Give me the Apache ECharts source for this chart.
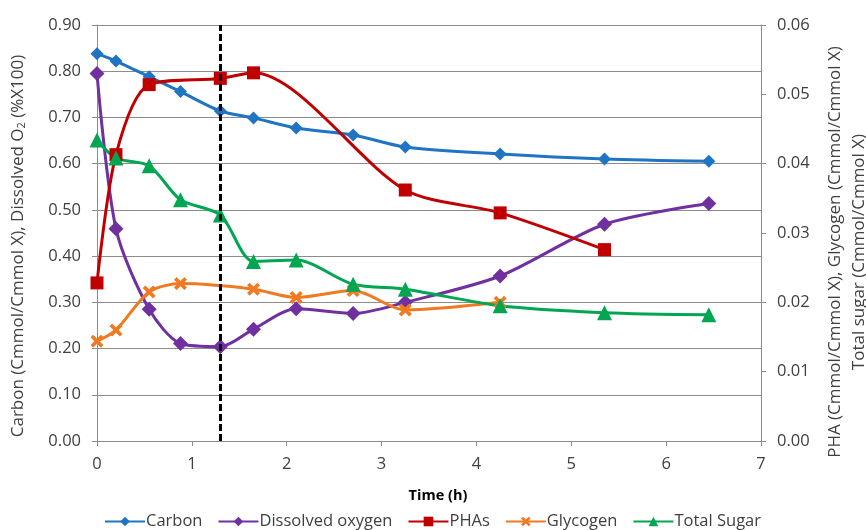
<!DOCTYPE html>
<html>
<head>
<meta charset="utf-8">
<script src="https://cdn.jsdelivr.net/npm/echarts@6/dist/echarts.min.js"></script>
<style>
  html, body { margin: 0; padding: 0; background: #fff; }
  #chart { width: 866px; height: 530px; }
</style>
</head>
<body>
<div id="chart"></div>
<script>
// Sampling times (h)
const timeAll = [0, 0.2, 0.55, 0.88, 1.3, 1.65, 2.1, 2.7, 3.25, 4.25, 5.35, 6.45];
const timePha = [0, 0.2, 0.55, 1.3, 1.65, 3.25, 4.25, 5.35];
const timeGlycogen = [0, 0.2, 0.55, 0.88, 1.65, 2.1, 2.7, 3.25, 4.25];

// Left axis: Carbon (Cmmol/Cmmol X), Dissolved O2 (%x100)
const carbon = [0.838, 0.822, 0.788, 0.756, 0.714, 0.699, 0.677, 0.662, 0.636, 0.621, 0.610, 0.605];
const dissolvedOxygen = [0.795, 0.459, 0.285, 0.211, 0.204, 0.242, 0.286, 0.276, 0.300, 0.357, 0.469, 0.514];

// Right axis: Cmmol/Cmmol X
const phas = [0.0228, 0.0413, 0.0514, 0.0523, 0.0531, 0.0362, 0.0329, 0.0276];
const glycogen = [0.0144, 0.0160, 0.0215, 0.0227, 0.0219, 0.0207, 0.0217, 0.0189, 0.0200];
const totalSugar = [0.0434, 0.0408, 0.0397, 0.0348, 0.0326, 0.0259, 0.0261, 0.0226, 0.0219, 0.0195, 0.0185, 0.0182];

// Phase change marker (h)
const phaseSwitch = 1.3;

const legendNames = ['Carbon', 'Dissolved oxygen', 'PHAs', 'Glycogen', 'Total Sugar'];

const FONT = 'Open Sans';
const TEXT = '#404040';
const GRID = '#8c8c8c';

const pairs = (xs, ys) => xs.map((x, i) => [x, ys[i]]);

const crossSymbol = 'path://M2,0 L5,3 L8,0 L10,2 L7,5 L10,8 L8,10 L5,7 L2,10 L0,8 L3,5 L0,2 Z';

const chart = echarts.init(document.getElementById('chart'));

function lineSeries(name, data, color, symbol, size, yAxisIndex, extra) {
  return Object.assign({
    name, type: 'line', data, yAxisIndex,
    smooth: 0.28,
    symbol, symbolSize: size,
    lineStyle: { color, width: 3 },
    itemStyle: { color },
    emphasis: { disabled: true },
    animation: false
  }, extra || {});
}

chart.setOption({
  backgroundColor: '#fff',
  textStyle: { fontFamily: FONT },
  grid: { left: 97, right: 105, top: 25, bottom: 89, containLabel: false },
  legend: {
    data: legendNames,
    left: 99, top: 508,
    itemWidth: 40, itemHeight: 12, itemGap: 15,
    textStyle: { fontFamily: FONT, fontSize: 16.5, color: TEXT, padding: [0, 0, 0, -4] }
  },
  xAxis: {
    type: 'value', min: 0, max: 7, interval: 1,
    name: 'Time (h)', nameLocation: 'middle', nameGap: 47,
    nameTextStyle: { fontFamily: FONT, fontWeight: 'bold', fontSize: 14.5, color: '#000', padding: [0, 0, 0, 18] },
    axisLine: { show: true, lineStyle: { color: GRID, width: 1 } },
    axisTick: { show: true, inside: false, length: 5, lineStyle: { color: GRID } },
    axisLabel: { fontFamily: FONT, fontSize: 16.5, color: TEXT, margin: 15 },
    splitLine: { show: false }
  },
  yAxis: [
    {
      type: 'value', min: 0, max: 0.9, interval: 0.1, position: 'left',
      axisLine: { show: true, lineStyle: { color: GRID, width: 1 } },
      axisTick: { show: true, length: 5, lineStyle: { color: GRID } },
      axisLabel: { fontFamily: FONT, fontSize: 16.5, color: TEXT, margin: 16, formatter: v => v.toFixed(2) },
      splitLine: { show: true, lineStyle: { color: GRID, width: 1 } }
    },
    {
      type: 'value', min: 0, max: 0.06, interval: 0.01, position: 'right',
      axisLine: { show: true, lineStyle: { color: GRID, width: 1 } },
      axisTick: { show: true, length: 5, lineStyle: { color: GRID } },
      axisLabel: { fontFamily: FONT, fontSize: 16.5, color: TEXT, margin: 16, formatter: v => v.toFixed(2) },
      splitLine: { show: false }
    }
  ],
  graphic: [
    {
      type: 'text', x: 18, y: 246, rotation: Math.PI / 2,
      style: {
        text: 'Carbon (Cmmol/Cmmol X), Dissolved O{sub|2} (%X100)',
        fontFamily: FONT, fontSize: 17, fill: TEXT,
        align: 'center', verticalAlign: 'middle',
        rich: { sub: { fontFamily: FONT, fontSize: 11, fill: TEXT, padding: [8, 0, 0, 0] } }
      }
    },
    {
      type: 'text', x: 847, y: 252, rotation: Math.PI / 2,
      style: {
        text: 'PHA (Cmmol/Cmmol X), Glycogen (Cmmol/Cmmol X)\nTotal sugar (Cmmol/Cmmol X)',
        fontFamily: FONT, fontSize: 17, fill: TEXT, lineHeight: 24,
        align: 'center', verticalAlign: 'middle'
      }
    }
  ],
  series: [
    lineSeries('Carbon', pairs(timeAll, carbon), '#1f74c4', 'diamond', 13, 0, {
      markLine: {
        silent: true, symbol: 'none', animation: false,
        label: { show: false },
        lineStyle: { color: '#000', type: [7, 3], width: 3 },
        data: [{ xAxis: phaseSwitch }]
      }
    }),
    lineSeries('Dissolved oxygen', pairs(timeAll, dissolvedOxygen), '#7030a0', 'diamond', 15, 0),
    lineSeries('PHAs', pairs(timePha, phas), '#c00000', 'rect', 13, 1),
    lineSeries('Glycogen', pairs(timeGlycogen, glycogen), '#f07a22', crossSymbol, 13, 1),
    lineSeries('Total Sugar', pairs(timeAll, totalSugar), '#00a651', 'triangle', 15, 1)
  ]
});
</script>
</body>
</html>
